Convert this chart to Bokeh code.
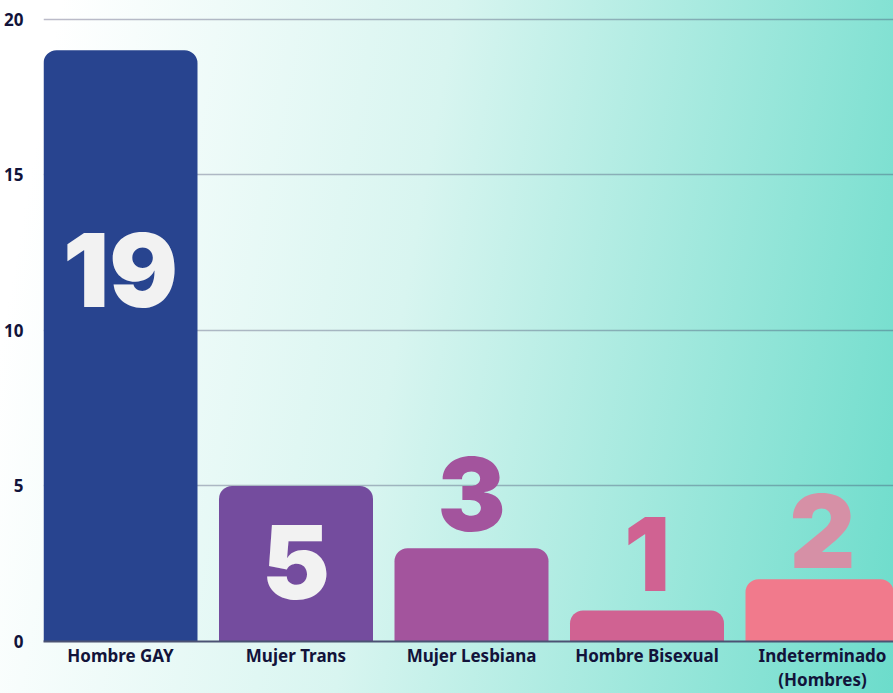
from bokeh.plotting import figure
from bokeh.models import FixedTicker, Range1d
from bokeh.core.properties import value
from bokeh.embed import file_html
from bokeh.resources import INLINE

categories = ["Hombre GAY", "Mujer Trans", "Mujer Lesbiana", "Hombre Bisexual", "Indeterminado\n(Hombres)"]
counts = [19, 5, 3, 1, 2]
y_ticks = [0, 5, 10, 15, 20]

bar_colors = ["#28448f", "#744c9e", "#a3549d", "#d06292", "#f17a8c"]
label_colors = ["#f2f2f2", "#f2f2f2", "#a3549d", "#d06292", "#d690a6"]
label_pos = [11.95, 2.55, 4.75, 2.8, 3.55]

bar_w = 0.8775
xs = [i + bar_w / 2 for i in range(len(categories))]

p = figure(width=893, height=693, output_backend="svg", toolbar_location=None,
           x_range=Range1d(0, 850 / 175.5), y_range=Range1d(0, 20.05),
           min_border_left=43, min_border_right=0, min_border_top=17, min_border_bottom=51)
p.styles = {"background-image": "linear-gradient(100deg, #ffffff 6%, #d8f5f0 45%, #6cdccb 100%)"}
p.background_fill_alpha = 0
p.border_fill_alpha = 0
p.outline_line_color = None

p.vbar(x=xs, top=counts, width=bar_w, bottom=0, fill_color=bar_colors, line_color=None,
       border_radius=(13, 13, 0, 0))

p.text(x=xs, y=label_pos, text=[str(c) for c in counts], text_color=label_colors,
       text_font=value("Inter Black, Inter"), text_font_style="bold", text_font_size="102px",
       text_align="center", text_baseline="middle")

p.xgrid.grid_line_color = None
p.ygrid.grid_line_color = "#3c3c64"
p.ygrid.grid_line_alpha = 0.35
p.ygrid.grid_line_width = 1.5
p.ygrid.ticker = FixedTicker(ticks=y_ticks)

p.yaxis.ticker = FixedTicker(ticks=y_ticks)
p.yaxis.axis_line_color = None
p.yaxis.major_tick_line_color = None
p.yaxis.minor_tick_line_color = None
p.yaxis.major_label_standoff = 14
p.yaxis.major_label_text_font = "Noto Sans"
p.yaxis.major_label_text_font_style = "bold"
p.yaxis.major_label_text_font_size = "17px"
p.yaxis.major_label_text_color = "#12133a"

p.xaxis.ticker = FixedTicker(ticks=xs)
p.xaxis.major_label_overrides = {x: c for x, c in zip(xs, categories)}
p.xaxis.axis_line_color = "#4b5273"
p.xaxis.axis_line_width = 2
p.xaxis.major_tick_line_color = None
p.xaxis.minor_tick_line_color = None
p.xaxis.major_tick_out = 0
p.xaxis.major_label_standoff = 2
p.xaxis.major_label_text_font = "Noto Sans"
p.xaxis.major_label_text_font_style = "bold"
p.xaxis.major_label_text_font_size = "17px"
p.xaxis.major_label_text_line_height = 1.05
p.xaxis.major_label_text_color = "#12133a"

open("out.html", "w").write(file_html(p, INLINE))
